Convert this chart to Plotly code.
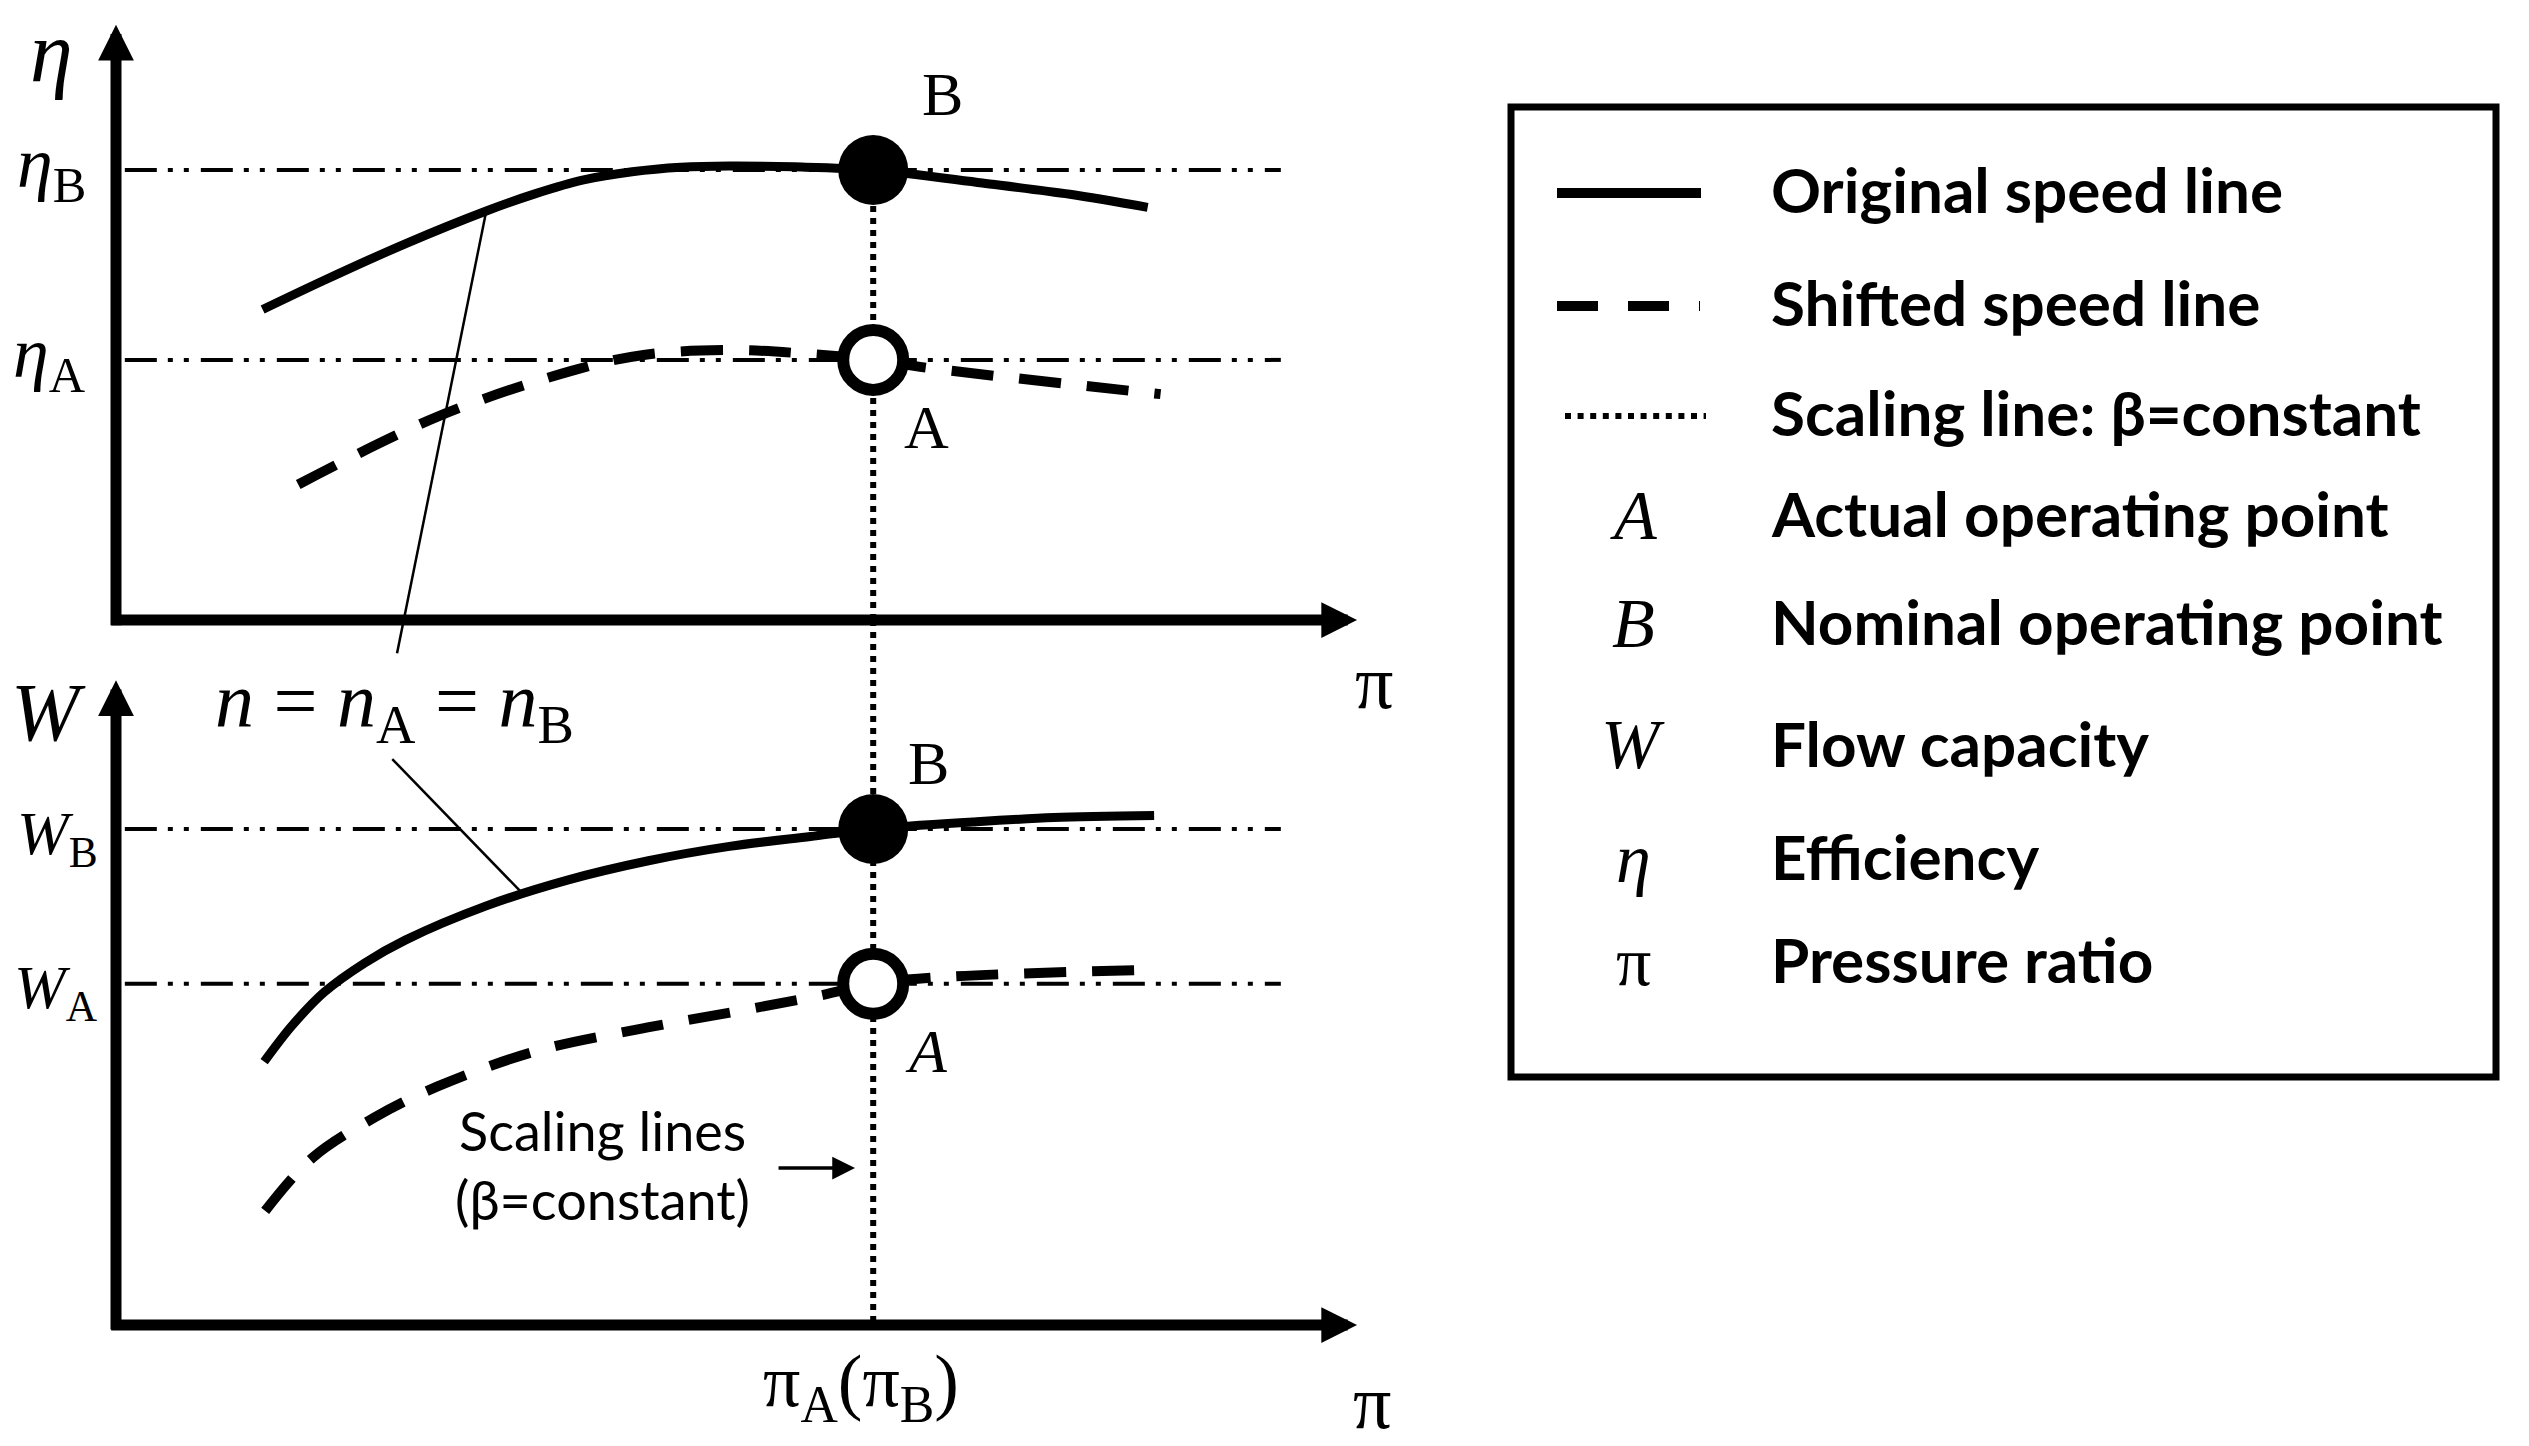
import plotly.graph_objects as go

# ---------------- data (schematic values) ----------------
pi_A = 6.0                      # operating pressure ratio pi_A (= pi_B)
eta_B, eta_A = 1.0, 0.578       # efficiency levels
w_B, w_A = 1.0, 0.688           # flow capacity levels

# efficiency speed lines
pi_eta_orig = [1.162, 1.650, 2.292, 2.934, 3.319, 3.705, 4.090, 4.476, 4.861, 5.375, 6.0, 6.865, 7.559, 8.175]
eta_orig = [0.690, 0.755, 0.836, 0.909, 0.947, 0.978, 0.996, 1.006, 1.009, 1.007, 1.0, 0.971, 0.946, 0.917]
pi_eta_shift = [1.444, 2.549, 3.602, 4.180, 4.887, 5.452, 6.0, 6.441, 8.277]
eta_shift = [0.301, 0.452, 0.553, 0.589, 0.600, 0.592, 0.578, 0.560, 0.502]

# flow capacity speed lines
pi_w_orig = [1.174, 1.393, 1.650, 1.971, 2.292, 2.934, 3.577, 4.219, 4.861, 5.503, 6.0, 6.788, 7.431, 8.226]
w_orig = [0.531, 0.603, 0.671, 0.730, 0.776, 0.845, 0.897, 0.936, 0.965, 0.985, 1.0, 1.014, 1.023, 1.027]
pi_w_shift = [1.182, 1.556, 2.053, 2.548, 3.326, 4.175, 4.954, 5.591, 6.0, 6.511, 8.173]
w_shift = [0.230, 0.337, 0.419, 0.481, 0.552, 0.598, 0.634, 0.665, 0.688, 0.701, 0.716]

# reference-level lines extent and axis extents
pi_ref_line = [0.07, 9.23]
pi_axis_end = 9.834
eta_axis_end = 1.323
w_axis_end = 1.300

# leader lines for "n = nA = nB"
lead_top_pi, lead_top_eta = [2.934, 2.227], [0.909, -0.074]
lead_bot_pi, lead_bot_w = [2.189, 3.217], [1.141, 0.871]

legend_items = ["Original speed line", "Shifted speed line", "Scaling line: β=constant",
                "Actual operating point", "Nominal operating point", "Flow capacity",
                "Efficiency", "Pressure ratio"]
legend_symbols = ["", "", "", "<i>A</i>", "<i>B</i>", "<i>W</i>", "<i>η</i>", "π"]

# ---------------- layout geometry (pixels) ----------------
FW, FH = 2529, 1446
X0, PXPI = 116, 126.2
E0, PXE = 620, 450
W0, PXW = 1325, 496


def paper(X, Y):
    return X / FW, 1 - Y / FH


MATH = "Liberation Serif"
SANS = "Lato"
BLACK = "#000000"
DASHDOT = "32px,11px,5px,11px,5px,12px"
DOTTED = "6px,6px"
DASHED = "42px,26px"

fig = go.Figure()

# reference dash-dot lines
for lvl, ax in [(eta_B, "y"), (eta_A, "y"), (w_B, "y2"), (w_A, "y2")]:
    fig.add_trace(go.Scatter(x=pi_ref_line, y=[lvl, lvl], yaxis=ax, mode="lines",
                             line=dict(color=BLACK, width=4, dash=DASHDOT), hoverinfo="skip"))

# vertical scaling line (beta = constant)
fig.add_trace(go.Scatter(x=[pi_A, pi_A], y=[eta_B, 0], yaxis="y", mode="lines",
                         line=dict(color=BLACK, width=6, dash=DOTTED), hoverinfo="skip"))
fig.add_trace(go.Scatter(x=[pi_A, pi_A], y=[(W0 - E0) / PXW, 0], yaxis="y2", mode="lines",
                         line=dict(color=BLACK, width=6, dash=DOTTED), hoverinfo="skip"))

# speed lines
fig.add_trace(go.Scatter(x=pi_eta_orig, y=eta_orig, yaxis="y", mode="lines",
                         line=dict(color=BLACK, width=9, shape="spline", smoothing=0.9), hoverinfo="skip"))
fig.add_trace(go.Scatter(x=pi_eta_shift, y=eta_shift, yaxis="y", mode="lines",
                         line=dict(color=BLACK, width=10, dash=DASHED, shape="spline"), hoverinfo="skip"))
fig.add_trace(go.Scatter(x=pi_w_orig, y=w_orig, yaxis="y2", mode="lines",
                         line=dict(color=BLACK, width=9, shape="spline", smoothing=0.9), hoverinfo="skip"))
fig.add_trace(go.Scatter(x=pi_w_shift, y=w_shift, yaxis="y2", mode="lines",
                         line=dict(color=BLACK, width=10, dash=DASHED, shape="spline"), hoverinfo="skip"))

# leader lines
fig.add_trace(go.Scatter(x=lead_top_pi, y=lead_top_eta, yaxis="y", mode="lines",
                         line=dict(color=BLACK, width=2.5), hoverinfo="skip"))
fig.add_trace(go.Scatter(x=lead_bot_pi, y=lead_bot_w, yaxis="y2", mode="lines",
                         line=dict(color=BLACK, width=2.5), hoverinfo="skip"))

# operating points
fig.add_trace(go.Scatter(x=[pi_A], y=[eta_B], yaxis="y", mode="markers",
                         marker=dict(size=70, color=BLACK, line=dict(width=0)), hoverinfo="skip"))
fig.add_trace(go.Scatter(x=[pi_A], y=[w_B], yaxis="y2", mode="markers",
                         marker=dict(size=70, color=BLACK, line=dict(width=0)), hoverinfo="skip"))
fig.add_trace(go.Scatter(x=[pi_A], y=[eta_A], yaxis="y", mode="markers",
                         marker=dict(size=60, color="white", line=dict(width=12, color=BLACK)), hoverinfo="skip"))
fig.add_trace(go.Scatter(x=[pi_A], y=[w_A], yaxis="y2", mode="markers",
                         marker=dict(size=60, color="white", line=dict(width=12, color=BLACK)), hoverinfo="skip"))

ann = []


def arrow(x, y, ax, ay, yref, width, size):
    ann.append(dict(x=x, y=y, ax=ax, ay=ay, xref="x", yref=yref, axref="x", ayref=yref,
                    text="", showarrow=True, arrowhead=2, arrowwidth=width, arrowsize=size,
                    arrowcolor=BLACK, standoff=0, startstandoff=0,
                    font=dict(family=SANS, size=12, color=BLACK)))


# axes with arrows
arrow(pi_axis_end, 0, -0.05, 0, "y", 11, 0.65)
arrow(0, eta_axis_end, 0, -0.015, "y", 11, 0.65)
arrow(pi_axis_end, 0, -0.05, 0, "y2", 11, 0.65)
arrow(0, w_axis_end, 0, -0.012, "y2", 11, 0.65)
# small arrow pointing to scaling line
arrow(5.856, 0.3165, 5.238, 0.3165, "y2", 3.5, 1.3)


def txt(text, X, Y, size, family=MATH, xanchor="center", yanchor="middle", bold=False):
    px_, py_ = paper(X, Y)
    ann.append(dict(x=px_, y=py_, xref="paper", yref="paper", text=text, showarrow=False,
                    xanchor=xanchor, yanchor=yanchor,
                    font=dict(family=family, size=size, color=BLACK,
                              weight="bold" if bold else "normal")))


def dtxt(text, x, y, yref, xshift, yshift, size, xanchor="center"):
    ann.append(dict(x=x, y=y, xref="x", yref=yref, text=text, showarrow=False,
                    xshift=xshift, yshift=yshift, xanchor=xanchor, yanchor="middle",
                    font=dict(family=MATH, size=size, color=BLACK)))


# axis titles
txt("<i>η</i>", 52, 52, 86)
txt("<i>W</i>", 48, 712, 82)
txt("π", 1374, 682, 76)
txt("π", 1372, 1402, 76)

# level labels
dtxt("<i>η</i><sub>B</sub>", 0, eta_B, "y", -28, 2, 72, "right")
dtxt("<i>η</i><sub>A</sub>", 0, eta_A, "y", -28, 2, 72, "right")
dtxt("<i>W</i><sub>B</sub>", 0, w_B, "y2", -16, -8, 62, "right")
dtxt("<i>W</i><sub>A</sub>", 0, w_A, "y2", -16, -8, 62, "right")

# point labels
dtxt("B", pi_A, eta_B, "y", 69, 76, 62)
dtxt("A", pi_A, eta_A, "y", 53, -67, 62)
dtxt("B", pi_A, w_B, "y2", 55, 66, 62)
dtxt("<i>A</i>", pi_A, w_A, "y2", 53, -67, 62)

# pi_A(pi_B) tick label
ann.append(dict(x=pi_A, y=paper(0, 1386)[1], xref="x", yref="paper",
                text="π<sub>A</sub>(π<sub>B</sub>)", showarrow=False,
                xanchor="center", yanchor="middle", xshift=-12,
                font=dict(family=MATH, size=74, color=BLACK)))

# speed annotation
txt("<i>n</i> = <i>n</i><sub>A</sub> = <i>n</i><sub>B</sub>", 395, 706, 78)

# scaling lines note
txt("Scaling lines", 602, 1130, 54, family=SANS)
txt("(β=constant)", 602, 1199, 54, family=SANS)

# legend box
shapes = []
x0p, y0p = paper(1511, 107)
x1p, y1p = paper(2496, 1077)
shapes.append(dict(type="rect", xref="paper", yref="paper", x0=x0p, y0=y1p, x1=x1p, y1=y0p,
                   line=dict(color=BLACK, width=7), fillcolor="rgba(0,0,0,0)"))

row_y = [189, 302, 412, 513, 621, 743, 856, 959]
sample_styles = [dict(width=10, dash="solid", x0=1557, x1=1701),
                 dict(width=10, dash="41px,30px", x0=1557, x1=1700),
                 dict(width=6, dash="6px,6.6px", x0=1565, x1=1706)]
for i, st in enumerate(sample_styles):
    a, b = paper(st["x0"], row_y[i] + 4)
    c, _ = paper(st["x1"], row_y[i] + 4)
    shapes.append(dict(type="line", xref="paper", yref="paper", x0=a, y0=b, x1=c, y1=b,
                       line=dict(color=BLACK, width=st["width"], dash=st["dash"])))

for i, (sym, lab) in enumerate(zip(legend_symbols, legend_items)):
    if sym:
        txt(sym, 1633, row_y[i] + 2, 70)
    txt(lab, 1769, row_y[i], 62, family=SANS, xanchor="left", bold=True)

fig.update_layout(
    width=FW, height=FH, margin=dict(l=0, r=0, t=0, b=0),
    paper_bgcolor="white", plot_bgcolor="white", showlegend=False,
    xaxis=dict(range=[(0 - X0) / PXPI, (FW - X0) / PXPI], visible=False, domain=[0, 1]),
    yaxis=dict(range=[(E0 - FH) / PXE, E0 / PXE], visible=False, domain=[0, 1]),
    yaxis2=dict(range=[(W0 - FH) / PXW, W0 / PXW], visible=False, domain=[0, 1],
                overlaying="y"),
    annotations=ann, shapes=shapes,
)

fig.write_html("out.html", config={"displayModeBar": False},
               post_script="document.body.style.margin='0';")
